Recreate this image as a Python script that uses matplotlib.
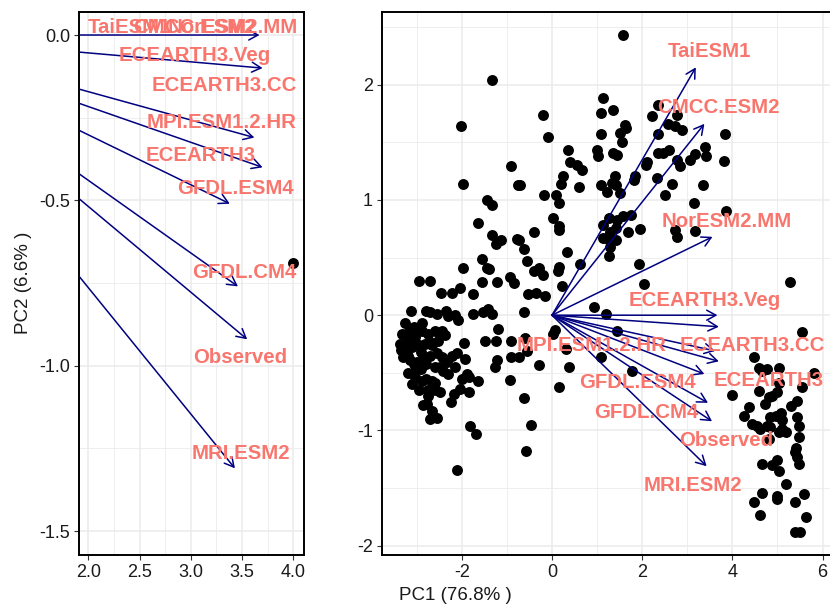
import matplotlib
matplotlib.use('Agg')
import matplotlib.pyplot as plt
from matplotlib.patches import FancyArrowPatch
from matplotlib.ticker import MultipleLocator

plt.rcParams['font.family'] = ['Liberation Sans', 'DejaVu Sans']
plt.rcParams['axes.unicode_minus'] = False

# ---- scores (individuals) ----
pc1 = [1.58, -1.34, -2.01, -0.21, -0.08, 1.13, 1.08, 1.35, 1.08, 1.62, 1.64, 1.51, 1.56,
       2.21, 2.36, 2.77, 2.58, 2.73, 2.88, 2.36, 3.84, 3.40, 3.42, 3.81, 3.18, 3.05, 2.77,
       2.84, 2.10, 2.09, 2.36, 2.47, 2.60, 1.82, 1.84, 2.33, 2.66, 2.51, 3.35, 3.14, 3.87,
       2.73, 2.77, 3.18, 1.96, 1.68, 1.92, 2.05, 5.27, 0.99, 1.03, 1.35, 1.44, 0.36, 0.40,
       0.55, 0.66, 0.25, 0.19, 0.61, 1.09, 1.22, 1.33, 1.40, 1.51, 1.42, -0.91, -0.75, -0.70,
       -1.97, -0.17, 0.10, 0.16, -1.45, -1.32, -1.65, -1.34, -1.24, -1.14, -0.78, -0.73, -0.39,
       0.02, 0.16, 0.16, 0.33, -0.62, -0.56, 1.13, 1.13, 1.25, 1.42, 1.45, 1.57, 1.76, 1.42,
       1.29, 1.27, 0.62, 0.15, 0.14, 0.22, -1.55, -1.44, -1.39, -1.97, -1.56, -1.23, -0.93,
       -0.84, -0.41, -0.29, -0.19, -2.95, -2.71, -2.47, -2.21, -2.04, -1.75, -0.53, -0.36,
       -0.16, 1.27, 1.29,
       -3.12, -2.79, -2.71, -2.56, -2.34, -2.30, -2.16, -2.09, -1.75, -1.53, -1.42, -1.34,
       -0.62, 0.93, 1.20, 1.44, 5.55, -1.19, -1.25, -1.49, -0.90, -0.59, -0.90, -0.74, -1.22,
       -1.26, -0.94, -0.29, 0.07, 0.03, 0.31, 0.38, 0.15, -0.63, -0.46, -0.58, -1.82, -1.69,
       -2.10, 1.09, 1.78, -1.96, -0.56,
       4.47, 4.58, 4.66, 4.77, 5.03, 5.03, 4.99, 4.88, 4.81, 5.81, 5.55, 4.58, 4.00, 4.73,
       4.38, 4.25, 4.44, 4.55, 4.62, 4.84, 4.96, 5.07, 5.29, 5.44, 5.44, 5.47, 4.77, 4.84,
       5.03, 5.18, 5.10, 4.81, 5.47, 5.42, 5.40, 5.44, 5.47, 4.66, 4.88, 5.00, 5.03, 5.18,
       4.66, 4.47, 5.00, 4.98, 5.59, 5.40, 4.62, 5.64, 5.40, 5.51, 5.10,
       -3.26, -3.07, -2.89, -3.33, -3.18, -3.04, -2.89, -2.74, -2.59, -2.44, -3.37, -3.26,
       -3.11, -2.96, -2.82, -2.67, -2.52, -2.37, -3.30, -3.15, -3.00, -2.85, -2.70, -2.56,
       -3.04, -2.70, -3.18, -2.49,
       -3.04, -3.04, -3.07, -2.89, -2.67, -2.59, -2.48, -2.74, -2.96, -2.78, -2.67, -2.70,
       -2.56, -2.86, -2.44, -2.33, -2.22, -2.11, -1.93, -2.41, -2.30, -2.48, -2.16, -1.89,
       -1.84, -2.00, -2.04, -1.85, -1.65, -2.18, -2.24,
       -3.20, -3.20, -2.90, -2.80, -2.60, -3.10, -2.75, -2.60, -3.35, -3.20, -2.90, -2.80]
pc2 = [2.43, 2.04, 1.64, 1.74, 1.55, 1.88, 1.75, 1.78, 1.57, 1.65, 1.62, 1.58, 1.50,
       1.73, 1.82, 1.74, 1.66, 1.64, 1.61, 1.57, 1.57, 1.46, 1.38, 1.34, 1.40, 1.35, 1.35,
       1.29, 1.33, 1.30, 1.41, 1.41, 1.43, 1.17, 1.21, 1.19, 1.14, 1.04, 1.13, 0.97, 0.90,
       0.74, 0.68, 0.73, 0.75, 0.72, 0.44, 0.27, 0.29, 1.43, 1.38, 1.41, 1.39, 1.43, 1.33,
       1.30, 1.26, 1.21, 1.14, 1.11, 1.13, 1.07, 1.15, 1.21, 1.06, 1.13, 1.29, 1.13, 1.13,
       1.14, 1.04, 1.04, 0.97, 1.00, 0.96, 0.80, 0.70, 0.62, 0.65, 0.66, 0.65, 0.72,
       0.84, 0.77, 0.74, 0.55, 0.57, 0.47, 0.78, 0.67, 0.66, 0.65, 0.83, 0.86, 0.87, 0.76,
       0.59, 0.51, 0.44, 0.42, 0.38, 0.25, 0.49, 0.41, 0.40, 0.41, 0.29, 0.29, 0.33,
       0.28, 0.38, 0.41, 0.35, 0.30, 0.30, 0.19, 0.19, 0.24, 0.18, 0.18, 0.19,
       0.17, 0.84, 0.72,
       0.04, 0.04, 0.03, 0.01, 0.04, -0.01, 0.00, -0.04, 0.01, 0.03, 0.05, 0.01,
       0.03, 0.07, 0.01, -0.14, -0.15, -0.12, -0.22, -0.22, -0.22, -0.20, -0.36, -0.36, -0.39,
       -0.45, -0.56, -0.43, -0.13, -0.16, -0.29, -0.45, -0.62, -0.72, -0.95, -1.18, -0.96, -1.03,
       -1.34, -0.36, -0.48, -0.24, -0.31,
       -0.36, -0.46, -0.48, -0.47, -0.46, -0.59, -0.67, -0.70, -0.71, -0.50, -0.62, -0.66, -0.69, -0.77,
       -0.80, -0.87, -0.94, -0.96, -0.99, -0.88, -0.87, -0.85, -0.79, -0.74, -0.88, -0.96, -0.96, -0.97,
       -1.01, -1.01, -0.99, -1.07, -1.06, -1.15, -1.19, -1.23, -1.29, -1.29, -1.30, -1.26, -1.35, -1.46,
       -1.54, -1.62, -1.57, -1.59, -1.55, -1.62, -1.73, -1.75, -1.88, -1.88, -0.91,
       -0.07, -0.10, -0.07, -0.16, -0.14, -0.16, -0.14, -0.16, -0.14, -0.14, -0.25, -0.30,
       -0.28, -0.26, -0.25, -0.26, -0.22, -0.17, -0.36, -0.39, -0.41, -0.39, -0.35, -0.33,
       -0.19, -0.23, -0.23, -0.16,
       -0.54, -0.48, -0.42, -0.57, -0.57, -0.59, -0.67, -0.65, -0.65, -0.77, -0.83, -0.90,
       -0.89, -0.78, -0.36, -0.41, -0.35, -0.33, -0.38, -0.48, -0.51, -0.45, -0.45, -0.51,
       -0.54, -0.55, -0.64, -0.67, -0.57, -0.68, -0.75,
       -0.35, -0.50, -0.47, -0.55, -0.45, -0.60, -0.70, -0.65, -0.30, -0.20, -0.32, -0.42]

# ---- variable loadings (arrows) ----
var_names = ['TaiESM1', 'CMCC.ESM2', 'NorESM2.MM', 'ECEARTH3.Veg', 'ECEARTH3.CC',
             'MPI.ESM1.2.HR', 'ECEARTH3', 'GFDL.ESM4', 'GFDL.CM4', 'Observed', 'MRI.ESM2']
var_pc1 = [3.19, 3.38, 3.56, 3.67, 3.70, 3.62, 3.70, 3.38, 3.46, 3.55, 3.43]
var_pc2 = [2.15, 1.66, 0.68, 0.00, -0.10, -0.31, -0.40, -0.51, -0.76, -0.92, -1.31]

# repelled label locations (data units) in each panel
lab_full_x = [3.49, 3.70, 3.87, 3.39, 4.44, 0.88, 4.80, 1.89, 2.10, 3.86, 3.13]
lab_full_y = [2.29, 1.80, 0.81, 0.13, -0.26, -0.26, -0.57, -0.58, -0.84, -1.09, -1.48]
lab_zoom_x = [2.40, 3.03, 3.41, 3.04, 3.33, 3.30, 3.10, 3.44, 3.52, 3.48, 3.49]
lab_zoom_y = [0.024, 0.024, 0.024, -0.063, -0.154, -0.265, -0.363, -0.465, -0.719, -0.974, -1.265]

x_label = 'PC1 (76.8% )'
y_label = 'PC2 (6.6% )'

W, H = 830, 605
fig = plt.figure(figsize=(W / 100, H / 100), dpi=100)
ax_zoom = fig.add_axes([79 / W, 1 - 555 / H, (304 - 79) / W, (555 - 12) / H])
ax_full = fig.add_axes([382 / W, 1 - 555 / H, (832 - 382) / W, (555 - 12) / H])

TXT = '#F8766D'
ARR = '#000080'
GRID = '#EBEBEB'


def style(ax, xmaj, ymaj):
    ax.set_facecolor('white')
    ax.xaxis.set_major_locator(MultipleLocator(xmaj))
    ax.xaxis.set_minor_locator(MultipleLocator(xmaj / 2))
    ax.yaxis.set_major_locator(MultipleLocator(ymaj))
    ax.yaxis.set_minor_locator(MultipleLocator(ymaj / 2))
    ax.grid(which='major', color=GRID, lw=1.1, zorder=0)
    ax.grid(which='minor', color=GRID, lw=0.6, zorder=0)
    ax.set_axisbelow(True)
    ax.tick_params(which='major', direction='out', length=3.5, width=0.8,
                   colors='#333333', labelsize=13, labelcolor='#1A1A1A', pad=3)
    ax.tick_params(which='minor', length=0)
    for s in ax.spines.values():
        s.set_color('black')
        s.set_linewidth(1.4)


def draw(ax, lx, ly):
    ax.scatter(pc1, pc2, s=62, color='black', zorder=3, linewidths=0)
    for i in range(len(var_names)):
        a = FancyArrowPatch((0, 0), (var_pc1[i], var_pc2[i]), arrowstyle='->,head_length=0.55,head_width=0.3',
                            mutation_scale=12, color=ARR, lw=1.1, shrinkA=0, shrinkB=0, zorder=4)
        ax.add_patch(a)
    for i, name in enumerate(var_names):
        ax.text(lx[i], ly[i], name, color=TXT, fontsize=14.7, fontweight='bold',
                ha='center', va='center', zorder=5, clip_on=True)


style(ax_zoom, 0.5, 0.5)
draw(ax_zoom, lab_zoom_x, lab_zoom_y)
ax_zoom.set_xlim(1.909, 4.104)
ax_zoom.set_ylim(-1.572, 0.0696)
ax_zoom.xaxis.set_major_formatter(matplotlib.ticker.FormatStrFormatter('%.1f'))
ax_zoom.yaxis.set_major_formatter(matplotlib.ticker.FormatStrFormatter('%.1f'))

style(ax_full, 2, 1)
draw(ax_full, lab_full_x, lab_full_y)
ax_full.set_xlim(-3.77, 6.21)
ax_full.set_ylim(-2.08, 2.63)
ax_full.spines['right'].set_visible(False)

fig.text(455 / W, 1 - 595 / H, x_label, ha='center', va='center', fontsize=13.5, color='#1A1A1A')
fig.text(24 / W, 1 - 283 / H, y_label, ha='center', va='center', rotation=90, fontsize=13.5,
         color='#1A1A1A')

fig.savefig('out.png', dpi=100)
